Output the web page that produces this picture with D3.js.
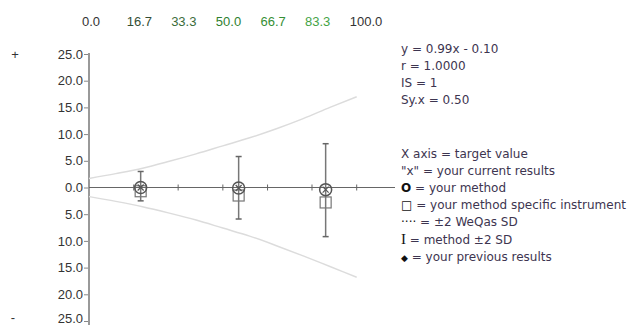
<!DOCTYPE html>
<html>
<head>
<meta charset="utf-8">
<script src="https://cdn.jsdelivr.net/npm/d3@7"></script>
<style>
  body { margin: 0; background: #fff; }
  svg { display: block; }
  .lbl { font-family: "Liberation Sans", Arial, sans-serif; font-size: 13px; fill: #333; }
  .info { font-family: "DejaVu Sans", Verdana, sans-serif; font-size: 12px; fill: #3d3550; }
</style>
</head>
<body>
<svg id="chart" width="629" height="325"></svg>
<script>
/** ------------- DATA -------------- */

const xTicks = [0, 16.7, 33.3, 50.0, 66.7, 83.3, 100.0];
const xTickColors = ["#333", "#344d34", "#3a6c3a", "#2f7f2f", "#358f35", "#45a345", "#333"];
const yTicks = [25, 20, 15, 10, 5, 0, -5, -10, -15, -20, -25];

// +/-2 WeQas SD envelope
const sdX = [0, 10, 20, 30, 40, 50, 60, 70, 80, 90, 100];
const sdUpper = [1.7, 2.6, 3.6, 4.9, 6.3, 7.8, 9.3, 11.0, 12.9, 15.0, 17.0];
const sdLower = [-1.7, -2.6, -3.6, -4.8, -6.1, -7.6, -9.1, -10.9, -12.8, -14.8, -16.8];

// results per target value
const targets = [19.3, 55.9, 88.4];
const methodBias = [0.0, -0.1, -0.4];
const instrumentBias = [-0.7, -1.5, -2.8];
const barHigh = [3.0, 5.8, 8.2];
const barLow = [-2.5, -5.9, -9.2];

const statsLines = ["y = 0.99x - 0.10", "r = 1.0000", "IS = 1", "Sy.x = 0.50"];
const legendLines = [
    ["", "X axis = target value"],
    ["", "\"x\" = your current results"],
    ["O", " = your method"],
    ["\u25A1", " = your method specific instrument"],
    ["\u00B7\u00B7\u00B7\u00B7", " = \u00B12 WeQas SD"],
    ["I", " = method \u00B12 SD"],
    ["\u25C6", " = your previous results"],
];

/** ------------- SCALES -------------- */

const svg = d3.select("#chart");
const x = d3.scaleLinear().domain([0, 100]).range([89, 356.7]);
const y = d3.scaleLinear().domain([-25, 25]).range([321, 54]);
const y0 = y(0);

/** ------------- AXES -------------- */

// y axis
svg.append("line")
    .attr("x1", x(0)).attr("x2", x(0))
    .attr("y1", y(25) - 1).attr("y2", 325)
    .attr("stroke", "#999").attr("stroke-width", 2);

const yAxis = svg.append("g")
    .attr("transform", `translate(${x(0) - 1},0)`)
    .call(d3.axisLeft(y).tickValues(yTicks).tickSize(4).tickPadding(1)
        .tickFormat((d) => Math.abs(d).toFixed(1)));
yAxis.select(".domain").remove();
yAxis.selectAll("line").attr("stroke", "#888");
yAxis.selectAll("text").attr("class", "lbl").attr("font-size", null).attr("font-family", null);
// keep the lowest label inside the picture
yAxis.selectAll("text").filter((d) => d === -25).attr("dy", "0.1em");

svg.append("text").attr("class", "lbl").attr("x", 15).attr("y", y(25))
    .attr("dy", "0.35em").attr("text-anchor", "middle").text("+");
svg.append("text").attr("class", "lbl").attr("x", 13).attr("y", y(-25))
    .attr("dy", "0.1em").attr("text-anchor", "middle").text("-");

// x axis (zero line) with ticks
svg.append("line")
    .attr("x1", x(0)).attr("x2", 395)
    .attr("y1", y0).attr("y2", y0)
    .attr("stroke", "#666").attr("stroke-width", 1.2);

svg.append("g").selectAll("line")
    .data(xTicks.slice(1))
    .join("line")
    .attr("x1", (d) => x(d)).attr("x2", (d) => x(d))
    .attr("y1", y0 - 3).attr("y2", y0 + 3)
    .attr("stroke", "#666");

// target labels along the top
svg.append("g").selectAll("text")
    .data(xTicks)
    .join("text")
    .attr("class", "lbl")
    .attr("x", (d) => x(d) - 7)
    .attr("y", 26)
    .style("fill", (d, i) => xTickColors[i])
    .text((d) => d.toFixed(1));

/** ------------- SD ENVELOPE -------------- */

const line = d3.line().x((d) => x(d[0])).y((d) => y(d[1])).curve(d3.curveMonotoneX);
[sdUpper, sdLower].forEach((arr) => {
    svg.append("path")
        .attr("d", line(sdX.map((v, i) => [v, arr[i]])))
        .attr("fill", "none")
        .attr("stroke", "#dcdcdc")
        .attr("stroke-width", 1.5);
});

/** ------------- RESULTS -------------- */

const res = svg.append("g").selectAll("g")
    .data(targets.map((t, i) => ({ t, m: methodBias[i], s: instrumentBias[i], hi: barHigh[i], lo: barLow[i] })))
    .join("g");

res.append("line")
    .attr("x1", (d) => x(d.t)).attr("x2", (d) => x(d.t))
    .attr("y1", (d) => y(d.hi)).attr("y2", (d) => y(d.lo))
    .attr("stroke", "#777").attr("stroke-width", 1.5);
["hi", "lo"].forEach((k) => {
    res.append("line")
        .attr("x1", (d) => x(d.t) - 3).attr("x2", (d) => x(d.t) + 3)
        .attr("y1", (d) => y(d[k])).attr("y2", (d) => y(d[k]))
        .attr("stroke", "#666").attr("stroke-width", 1.5);
});

res.append("rect")
    .attr("x", (d) => x(d.t) - 5.5).attr("y", (d) => y(d.s) - 5.5)
    .attr("width", 11).attr("height", 11)
    .attr("fill", "none").attr("stroke", "#777").attr("stroke-width", 1.2);

res.append("circle")
    .attr("cx", (d) => x(d.t)).attr("cy", (d) => y(d.m))
    .attr("r", 6)
    .attr("fill", "none").attr("stroke", "#555").attr("stroke-width", 1.5);

res.append("path")
    .attr("d", (d) => {
        const cx = x(d.t), cy = y(d.m);
        return `M${cx - 3},${cy - 3}L${cx + 3},${cy + 3}M${cx + 3},${cy - 3}L${cx - 3},${cy + 3}`;
    })
    .attr("stroke", "#555").attr("stroke-width", 1.2);

/** ------------- TEXT BLOCKS -------------- */

svg.append("g").selectAll("text")
    .data(statsLines)
    .join("text")
    .attr("class", "info")
    .attr("x", 401)
    .attr("y", (d, i) => 53 + i * 17)
    .text((d) => d);

const leg = svg.append("g").selectAll("text")
    .data(legendLines)
    .join("text")
    .attr("class", "info")
    .attr("x", 401)
    .attr("y", (d, i) => 157.5 + i * 17.2);

leg.append("tspan")
    .style("fill", "#111")
    .style("font-weight", (d) => (d[0] === "O" ? "bold" : null))
    .style("font-family", (d) => (d[0] === "I" ? "'Liberation Serif', serif" : null))
    .style("font-size", (d) => (d[0] === "I" ? "15px" : d[0] === "\u25C6" ? "9px" : null))
    .text((d) => d[0]);
leg.append("tspan").text((d) => d[1]);
</script>
</body>
</html>
